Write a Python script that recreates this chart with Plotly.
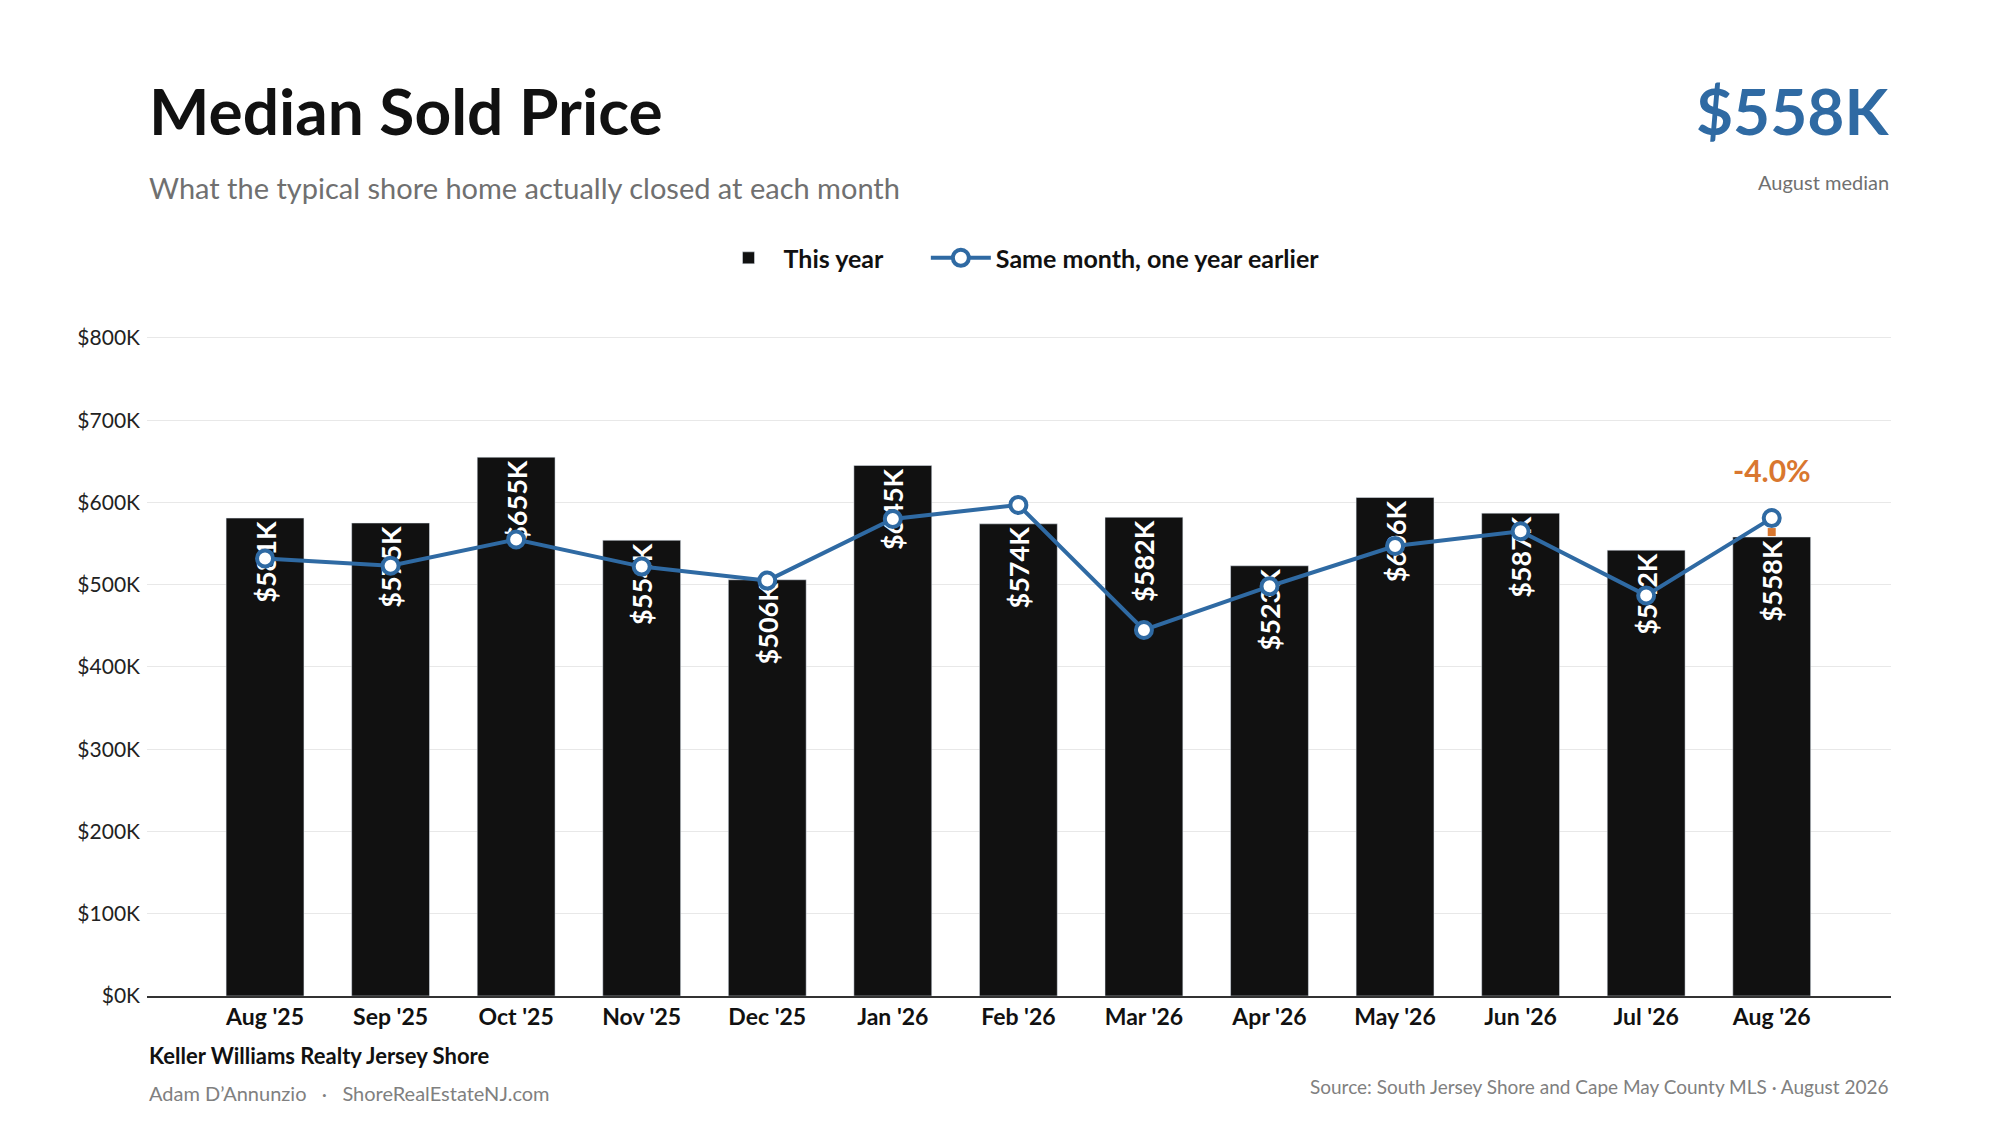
import plotly.graph_objects as go

months = ["Aug '25", "Sep '25", "Oct '25", "Nov '25", "Dec '25", "Jan '26", "Feb '26",
          "Mar '26", "Apr '26", "May '26", "Jun '26", "Jul '26", "Aug '26"]
this_year = [581, 575, 655, 554, 506, 645, 574, 582, 523, 606, 587, 542, 558]
last_year = [532, 523, 555, 522, 505, 580, 597, 445, 498, 547, 565, 487, 581]
y_ticks = [0, 100, 200, 300, 400, 500, 600, 700, 800]

blue = '#2f6aa3'
orange = '#d9772f'
font = 'Lato'

fig = go.Figure()

fig.add_trace(go.Bar(
    x=months, y=this_year, name='<b>This year</b>\u2003\u2003',
    marker=dict(color='#111111'), width=0.62,
    text=[f'<b>${v}K</b>' for v in this_year], textposition='inside',
    insidetextanchor='end', textangle=-90, constraintext='none',
    textfont=dict(color='white', size=27, family=font),
    hoverinfo='skip'
))

fig.add_trace(go.Scatter(
    x=months, y=last_year, name='<b>Same month, one year earlier</b>',
    mode='lines+markers',
    line=dict(color=blue, width=4),
    marker=dict(size=16, color='white', line=dict(color=blue, width=4))
))

# orange change marker on the latest month
fig.add_trace(go.Scatter(
    x=[months[-1]], y=[this_year[-1] + 6], mode='markers',
    marker=dict(symbol='square', size=8, color=orange),
    showlegend=False, hoverinfo='skip'
))

change = (this_year[-1] - last_year[-1]) / last_year[-1] * 100
fig.add_annotation(x=months[-1], y=last_year[-1], yshift=48, text=f'<b>{change:.1f}%</b>',
                   showarrow=False, font=dict(color=orange, size=30, family=font))

# paper y positions below are relative to a plot height of 663 px
fig.add_annotation(xref='paper', yref='paper', x=0.0, y=1.336, xanchor='left', yanchor='middle',
                   text='<b>Median Sold Price</b>', showarrow=False,
                   font=dict(size=64, color='#111111', family=font))
fig.add_annotation(xref='paper', yref='paper', x=0.0, y=1.220, xanchor='left', yanchor='middle',
                   text='What the typical shore home actually closed at each month', showarrow=False,
                   font=dict(size=29, color='#707070', family=font))
fig.add_annotation(xref='paper', yref='paper', x=1.0, y=1.336, xanchor='right', yanchor='middle',
                   text=f'<b>${this_year[-1]}K</b>', showarrow=False,
                   font=dict(size=64, color=blue, family=font))
fig.add_annotation(xref='paper', yref='paper', x=1.0, y=1.228, xanchor='right', yanchor='middle',
                   text='August median', showarrow=False,
                   font=dict(size=20, color='#707070', family=font))
fig.add_annotation(xref='paper', yref='paper', x=0.0, y=-0.089, xanchor='left', yanchor='middle',
                   text='<b>Keller Williams Realty Jersey Shore</b>', showarrow=False,
                   font=dict(size=22, color='#111111', family=font))
fig.add_annotation(xref='paper', yref='paper', x=0.0, y=-0.146, xanchor='left', yanchor='middle',
                   text='Adam D\u2019Annunzio   \u00b7   ShoreRealEstateNJ.com', showarrow=False,
                   font=dict(size=20, color='#808080', family=font))
fig.add_annotation(xref='paper', yref='paper', x=1.0, y=-0.136, xanchor='right', yanchor='middle',
                   text='Source: South Jersey Shore and Cape May County MLS \u00b7 August 2026', showarrow=False,
                   font=dict(size=19, color='#808080', family=font))

fig.update_layout(
    width=2000, height=1125,
    plot_bgcolor='white', paper_bgcolor='white',
    font=dict(family=font, color='#222222'),
    margin=dict(l=139, r=117, t=325, b=137),
    legend=dict(orientation='h', x=0.5, xanchor='center', y=1.113, yanchor='middle',
                font=dict(size=25, color='#111111', family=font), itemwidth=60,
                bgcolor='rgba(0,0,0,0)'),
    xaxis=dict(showgrid=False, showline=True, linecolor='#333333', linewidth=1.5,
               tickvals=months, ticktext=[f'<b>{m}</b>' for m in months],
               tickfont=dict(size=23, color='#111111', family=font), ticks='',
               range=[-0.94, 12.95]),
    yaxis=dict(range=[0, 806], tickvals=y_ticks, ticktext=[f'${v}K' for v in y_ticks],
               showgrid=True, gridcolor='#e8e8e8', zeroline=False,
               tickfont=dict(size=21, color='#222222', family=font), ticklabelstandoff=6),
    showlegend=True
)

fig.write_html("out.html")
